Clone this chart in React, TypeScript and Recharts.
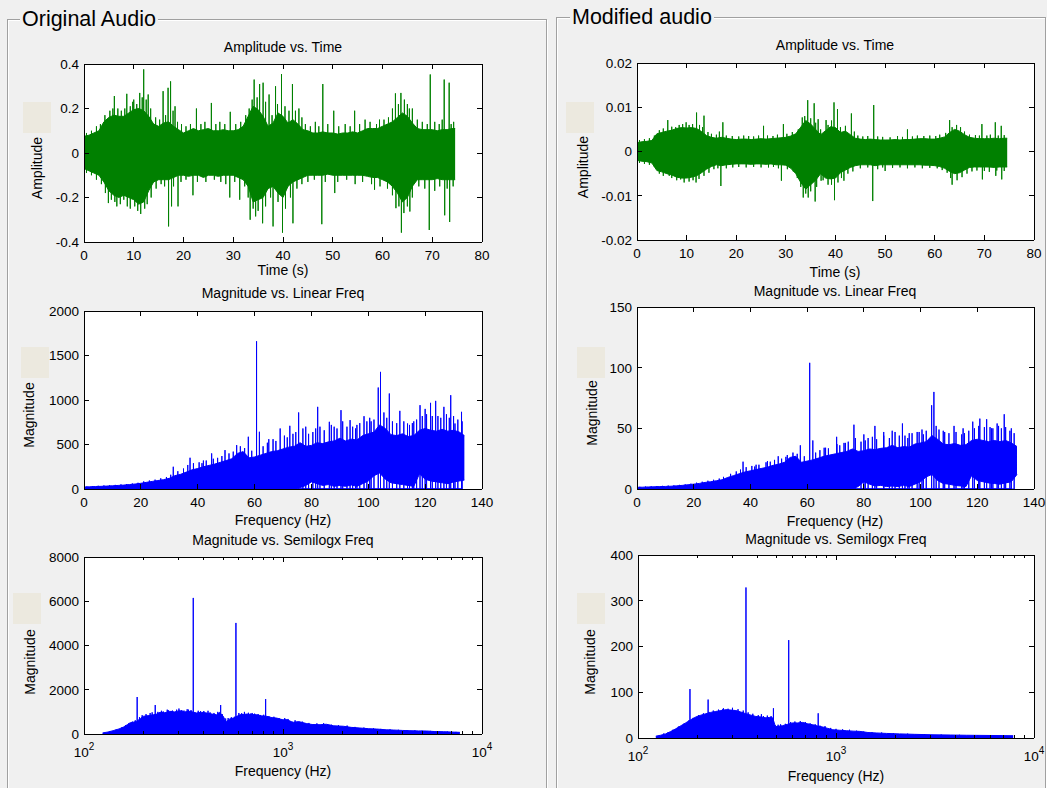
// Two MATLAB-style GUI panels: original vs. modified audio, three axes each
// (amplitude over time, magnitude over linear freq, magnitude over log freq).
// Dense signals are drawn as an envelope band plus a list of visible spikes.

import React from "react";
import { ComposedChart, Area, Line, XAxis, YAxis, CartesianGrid } from "recharts";

const FONT = "Arial, 'Liberation Sans', Helvetica, sans-serif";
const BG = "#f0f0f0";
const SWATCH = "#ece9df";
const GREEN = "#008000";
const BLUE = "#0000ff";
const INK = "#000";

type Spike = [number, number];

// ---------- Amplitude vs. Time (1 s bins) ----------
const TIME_S = [
  0, 1, 2, 3, 4, 5, 6, 7, 8, 9, 10, 11, 12, 13, 14, 15, 16, 17, 18, 19, 20, 21, 22, 23, 24, 25, 26, 27, 28, 29,
  30, 31, 32, 33, 34, 35, 36, 37, 38, 39, 40, 41, 42, 43, 44, 45, 46, 47, 48, 49, 50, 51, 52, 53, 54, 55, 56, 57,
  58, 59, 60, 61, 62, 63, 64, 65, 66, 67, 68, 69, 70, 71, 72, 73, 74, 74.6,
];
const ORIG_AMP_HI = [
  0.075, 0.08, 0.09, 0.1, 0.14, 0.16, 0.17, 0.165, 0.165, 0.18, 0.195, 0.2, 0.19, 0.165, 0.13, 0.12, 0.135, 0.14,
  0.12, 0.105, 0.09, 0.1, 0.11, 0.1, 0.105, 0.11, 0.1, 0.1, 0.105, 0.1, 0.1, 0.105, 0.12, 0.165, 0.21, 0.195, 0.165,
  0.12, 0.135, 0.18, 0.165, 0.135, 0.15, 0.13, 0.105, 0.1, 0.09, 0.09, 0.095, 0.09, 0.09, 0.085, 0.09, 0.09, 0.095,
  0.09, 0.1, 0.11, 0.11, 0.11, 0.12, 0.13, 0.14, 0.16, 0.18, 0.165, 0.135, 0.11, 0.105, 0.105, 0.105, 0.1, 0.105,
  0.105, 0.11, 0.11,
];
const ORIG_AMP_LO = [
  -0.07, -0.08, -0.09, -0.1, -0.13, -0.17, -0.19, -0.2, -0.19, -0.2, -0.21, -0.23, -0.22, -0.17, -0.13, -0.12, -0.12,
  -0.12, -0.11, -0.1, -0.1, -0.105, -0.1, -0.1, -0.11, -0.1, -0.1, -0.105, -0.1, -0.1, -0.1, -0.11, -0.12, -0.15,
  -0.22, -0.21, -0.2, -0.16, -0.15, -0.18, -0.2, -0.15, -0.13, -0.12, -0.11, -0.1, -0.1, -0.1, -0.1, -0.095, -0.1,
  -0.1, -0.1, -0.1, -0.1, -0.1, -0.1, -0.105, -0.11, -0.11, -0.12, -0.13, -0.15, -0.18, -0.22, -0.2, -0.15, -0.12,
  -0.12, -0.12, -0.12, -0.115, -0.12, -0.12, -0.12, -0.12,
];
const ORIG_AMP_SPIKES: Spike[] = [
  [4.9, -0.225], [6.1, 0.256], [6.6, -0.24], [8.6, 0.266], [8.7, -0.24], [10, 0.24], [11.2, 0.27], [11.4, -0.274],
  [12, 0.376], [12.9, 0.263], [15.9, 0.278], [16.9, 0.293], [17, -0.33], [17.4, 0.322], [17.6, -0.24], [18.3, 0.21],
  [18.9, -0.24], [21.9, -0.19], [22.6, 0.2], [25.6, 0.225], [29.3, -0.2], [29.4, 0.185], [31.3, -0.21],
  [33.4, -0.3], [34.2, 0.33], [34.5, -0.285], [35.3, 0.31], [35.9, -0.316], [36, 0.316], [37.2, 0.263],
  [38, -0.33], [38.5, 0.3], [39.7, 0.355], [39.9, -0.358], [41.9, 0.31], [42, -0.316], [43.2, 0.2], [47.8, -0.32],
  [48, 0.31], [50.2, 0.19], [50.4, -0.18], [54.4, 0.19], [58.4, -0.165], [59.4, 0.15], [62.6, 0.268],
  [62.7, -0.248], [63.7, 0.27], [63.8, -0.358], [65.4, 0.2], [65.5, -0.263], [69.4, -0.346], [69.6, 0.353],
  [72.4, 0.33], [72.5, -0.28], [73.4, 0.316], [73.5, -0.31],
];
// smaller peaks that make the ragged edge of the body
const ORIG_AMP_RAGGED: Spike[] = [
  [0.5, 0.09], [1.5, 0.1], [2.5, 0.12], [3.3, 0.13], [4.2, 0.17], [5.2, 0.19], [5.8, 0.2], [6.8, 0.2], [7.5, 0.19],
  [8.2, 0.2], [9.3, 0.21], [9.8, 0.23], [10.6, 0.22], [11.7, 0.25], [12.5, 0.24], [13.4, 0.2], [14.4, 0.16],
  [15.2, 0.15], [16.4, 0.17], [17.9, 0.19], [18.8, 0.14], [19.6, 0.13], [20.5, 0.12], [21.4, 0.13], [23.5, 0.13],
  [24.3, 0.14], [26.5, 0.13], [27.3, 0.14], [28.3, 0.13], [30.5, 0.13], [31.5, 0.14], [32.5, 0.17], [33.2, 0.2],
  [33.8, 0.24], [34.8, 0.25], [36.5, 0.23], [37.8, 0.17], [38.9, 0.22], [40.4, 0.21], [41.2, 0.19], [42.5, 0.19],
  [43.8, 0.16], [44.5, 0.13], [45.5, 0.12], [46.5, 0.14], [47.2, 0.12], [49, 0.13], [51.2, 0.12], [52.5, 0.13],
  [53.5, 0.12], [55.4, 0.13], [56.5, 0.15], [57.5, 0.14], [58.8, 0.13], [60.3, 0.15], [61.2, 0.16], [62, 0.2],
  [63.2, 0.22], [64.4, 0.24], [65, 0.22], [66, 0.2], [67, 0.15], [68, 0.14], [69, 0.13], [70.5, 0.14], [71.4, 0.13],
  [72, 0.15], [73.8, 0.13], [74.3, 0.14],
  [0.5, -0.09], [1.5, -0.1], [2.5, -0.12], [3.5, -0.14], [4.3, -0.18], [5.5, -0.21], [6.2, -0.22], [7.3, -0.23],
  [8, -0.21], [9.3, -0.25], [10.2, -0.24], [10.8, -0.26], [12.2, -0.25], [12.7, -0.23], [13.5, -0.2], [14.5, -0.16],
  [15.5, -0.14], [16.2, -0.15], [18, -0.15], [19.5, -0.13], [20.5, -0.12], [22.8, -0.13], [24.5, -0.13],
  [26.2, -0.12], [27.5, -0.13], [28.5, -0.14], [30.3, -0.13], [32.3, -0.15], [33, -0.2], [34, -0.25], [35, -0.26],
  [36.5, -0.24], [37.5, -0.2], [39, -0.22], [40.5, -0.25], [41.5, -0.2], [42.8, -0.16], [43.8, -0.14], [45, -0.13],
  [46.3, -0.12], [48.5, -0.13], [51, -0.13], [52.8, -0.12], [54.5, -0.14], [56, -0.13], [57.8, -0.14], [59.5, -0.15],
  [61, -0.16], [62, -0.19], [63.3, -0.24], [64.3, -0.27], [65, -0.24], [66, -0.2], [67.3, -0.15], [68.5, -0.16],
  [70.5, -0.17], [71.5, -0.15], [73, -0.16], [74.2, -0.15],
];

const MOD_AMP_HI = [
  0.002, 0.0022, 0.0023, 0.0025, 0.004, 0.0043, 0.0046, 0.0048, 0.0052, 0.0054, 0.0053, 0.0054, 0.0052, 0.0045,
  0.0036, 0.0032, 0.003, 0.0032, 0.003, 0.0028, 0.0027, 0.0028, 0.0028, 0.0027, 0.0028, 0.0029, 0.0028, 0.0029,
  0.003, 0.0031, 0.0032, 0.0035, 0.004, 0.0055, 0.007, 0.0062, 0.005, 0.0038, 0.0047, 0.0056, 0.0054, 0.0043,
  0.0046, 0.0038, 0.003, 0.0028, 0.0027, 0.0028, 0.0027, 0.0026, 0.0026, 0.0026, 0.0027, 0.0026, 0.0027, 0.0027,
  0.0028, 0.0029, 0.0029, 0.0028, 0.0028, 0.003, 0.0033, 0.0043, 0.005, 0.0046, 0.0038, 0.0032, 0.003, 0.0029,
  0.0029, 0.0029, 0.003, 0.0029, 0.003, 0.003,
];
const MOD_AMP_LO = [
  -0.002, -0.0022, -0.0023, -0.0026, -0.0043, -0.0046, -0.005, -0.0053, -0.0058, -0.006, -0.006, -0.0058, -0.0055,
  -0.0048, -0.004, -0.0034, -0.003, -0.0032, -0.003, -0.0029, -0.0028, -0.0028, -0.0028, -0.0029, -0.0028,
  -0.0028, -0.0029, -0.0028, -0.003, -0.003, -0.0031, -0.0038, -0.005, -0.007, -0.0085, -0.0075, -0.0065, -0.005,
  -0.006, -0.0062, -0.006, -0.0048, -0.0042, -0.0036, -0.0032, -0.003, -0.003, -0.003, -0.0032, -0.003, -0.003,
  -0.003, -0.003, -0.003, -0.003, -0.003, -0.003, -0.003, -0.0031, -0.0031, -0.0032, -0.0034, -0.0038, -0.0045,
  -0.005, -0.0048, -0.0042, -0.0036, -0.0035, -0.0035, -0.0035, -0.0035, -0.0036, -0.0035, -0.0035, -0.0035,
];
const MOD_AMP_SPIKES: Spike[] = [
  [6.2, 0.0071], [6.5, -0.0055], [9.9, 0.0066], [11.9, -0.007], [12, 0.0088], [13.5, 0.0081], [16.9, -0.0078],
  [17.3, 0.0066], [25.5, 0.0058], [29.1, -0.0066], [29.5, 0.0062], [33.3, 0.0077], [33.5, -0.0104],
  [34.4, 0.0116], [34.5, -0.0104], [35.7, 0.0109], [35.9, -0.0113], [36.5, 0.0073], [37.1, -0.0066],
  [38.1, 0.0071], [39.7, 0.0111], [39.8, -0.011], [40.4, 0.0096], [41.7, -0.0066], [43.2, 0.0086],
  [47.5, -0.0112], [47.7, 0.0105], [50, -0.0044], [54.5, 0.005], [63, 0.0071], [63.5, -0.0075],
  [69.5, 0.0062], [69.6, -0.0063], [72.2, 0.0066], [72.3, -0.0055], [73.4, 0.0058], [73.5, -0.0063],
];
const MOD_AMP_RAGGED: Spike[] = [
  [0.5, 0.0026], [1.5, 0.0028], [2.5, 0.003], [3.5, 0.0036], [4.5, 0.0048], [5.3, 0.0052], [7, 0.0056],
  [7.8, 0.0055], [8.5, 0.006], [9.2, 0.0062], [10.5, 0.006], [11.2, 0.0062], [12.6, 0.006], [13.2, 0.0055],
  [14.3, 0.0044], [15, 0.004], [16, 0.0038], [16.6, 0.0045], [18, 0.0036], [19.2, 0.0035], [20.5, 0.0034],
  [21.5, 0.0036], [22.5, 0.0035], [23.5, 0.0034], [24.5, 0.0036], [26.3, 0.0036], [27.4, 0.0035], [28.3, 0.0038],
  [30.2, 0.004], [31.3, 0.0044], [32.5, 0.005], [33.8, 0.008], [35, 0.0075], [36, 0.0065], [37, 0.005],
  [38.5, 0.006], [39.2, 0.007], [41, 0.0055], [42, 0.0058], [43.8, 0.0045], [44.5, 0.0036], [45.5, 0.0034],
  [46.5, 0.0035], [48.5, 0.0034], [49.5, 0.0033], [51, 0.0032], [52.5, 0.0035], [53.5, 0.0033], [55.5, 0.0034],
  [56.5, 0.0036], [57.8, 0.0035], [59, 0.0036], [60.2, 0.0035], [61, 0.0038], [62.2, 0.0042], [63.5, 0.0055],
  [64.4, 0.006], [65.2, 0.0055], [66, 0.0045], [67, 0.0038], [68.2, 0.0037], [69, 0.0036], [70.5, 0.0036],
  [71.2, 0.0038], [72.8, 0.0036], [74, 0.0037],
  [0.5, -0.0026], [1.5, -0.0028], [2.5, -0.003], [3.5, -0.0035], [4.5, -0.005], [5.3, -0.0055], [7, -0.006],
  [8, -0.0065], [8.8, -0.0063], [9.5, -0.007], [10.5, -0.0068], [11.3, -0.0065], [12.5, -0.0062], [13.5, -0.0055],
  [14.5, -0.0048], [15.5, -0.004], [16.3, -0.0038], [18, -0.0038], [19.3, -0.0036], [20.5, -0.0035], [22, -0.0036],
  [23.5, -0.0035], [25, -0.0036], [26.5, -0.0036], [27.5, -0.0035], [28.5, -0.0038], [30.3, -0.004],
  [31.5, -0.0045], [32.3, -0.006], [33, -0.008], [34, -0.0095], [35, -0.009], [36.2, -0.008], [37.5, -0.0065],
  [38.5, -0.0075], [39.2, -0.0075], [40.5, -0.007], [41.2, -0.006], [42.5, -0.005], [43.5, -0.0045],
  [45, -0.0038], [46.5, -0.0036], [48.5, -0.004], [49.5, -0.0036], [51.5, -0.0037], [53, -0.0036], [54.5, -0.0038],
  [56, -0.0036], [57.5, -0.0038], [59, -0.0037], [60.5, -0.0038], [61.5, -0.0042], [62.5, -0.0048], [63.2, -0.006],
  [64.5, -0.0065], [65.5, -0.0058], [66.5, -0.005], [67.5, -0.0045], [68.5, -0.0043], [70, -0.0044],
  [71, -0.0046], [72.5, -0.0043], [74, -0.0044],
];

// ---------- Magnitude vs. Linear Freq (2 Hz bins) ----------
const ORIG_LIN_HZ = [
  0, 2, 4, 6, 8, 10, 12, 14, 16, 18, 20, 22, 24, 26, 28, 30, 32, 34, 36, 38, 40, 42, 44, 46, 48, 50, 52, 54, 56, 58,
  60, 62, 64, 66, 68, 70, 72, 74, 76, 78, 80, 82, 84, 86, 88, 90, 92, 94, 96, 98, 100, 102, 104, 106, 108, 110, 112,
  114, 116, 118, 120, 122, 124, 126, 128, 130, 132, 133.8,
];
const ORIG_LIN_HI = [
  22, 25, 28, 30, 33, 36, 40, 44, 50, 56, 64, 75, 85, 95, 105, 120, 150, 165, 190, 215, 230, 250, 265, 280, 300,
  320, 340, 400, 420, 350, 360, 380, 400, 420, 430, 450, 470, 480, 520, 480, 490, 520, 510, 530, 540, 570, 540, 560,
  550, 600, 620, 640, 720, 680, 610, 600, 620, 590, 600, 660, 680, 660, 650, 670, 650, 660, 640, 600,
];
const ORIG_LIN_LO = [
  0, 0, 0, 0, 0, 0, 0, 0, 0, 0, 0, 0, 0, 0, 0, 0, 0, 0, 0, 0, 0, 0, 0, 0, 0, 0, 0, 0, 0, 0, 0, 0, 0, 0, 0, 0, 0, 0,
  15, 40, 80, 60, 40, 50, 30, 40, 30, 45, 30, 60, 90, 150, 180, 110, 70, 60, 50, 40, 30, 170, 110, 90, 80, 70, 60,
  80, 90, 100,
];
const ORIG_LIN_SPIKES: Spike[] = [
  [31.4, 250], [37.3, 351], [42, 320], [44.9, 400], [49.6, 437], [53.7, 493], [57.8, 587], [60.7, 1660],
  [61.7, 643], [65, 560], [69, 680], [72.4, 710], [75.5, 860], [78, 700], [82.2, 923], [86.3, 755], [88, 700],
  [90.4, 886], [93.6, 774], [96, 720], [98.5, 818], [101, 760], [103.5, 1140], [104.3, 1316], [107.4, 1073],
  [111.1, 878], [113.8, 736], [116, 760], [118.2, 942], [120, 900], [121.9, 968], [123.7, 990], [126.6, 923],
  [129, 1054], [130.5, 736], [132.8, 867],
];
const ORIG_LIN_RAGGED: Spike[] = [
  [1, 28], [3, 32], [5, 36], [7, 40], [9, 42], [11, 46], [13, 52], [15, 56], [17, 62], [19, 70], [21, 85], [23, 95],
  [25, 105], [27, 120], [29, 135], [30.5, 160], [33, 200], [35, 230], [36.5, 270], [38.5, 290], [40.5, 300],
  [41.5, 290], [43, 320], [45.5, 340], [47, 350], [48.5, 370], [51, 400], [52.5, 420], [55, 480], [56.5, 460],
  [59, 430], [63, 480], [64.5, 520], [66.5, 560], [67.5, 540], [70.5, 600], [71.5, 580], [73.5, 620], [74.5, 640],
  [77, 680], [79, 620], [80.5, 640], [81.5, 680], [83, 700], [84.5, 660], [87, 720], [89, 680], [91, 760],
  [92.5, 700], [94.5, 700], [95.5, 680], [97, 740], [99.5, 760], [100.5, 800], [102, 780], [105.5, 860],
  [106.5, 800], [108.5, 760], [110, 740], [112.5, 760], [114.5, 720], [115.5, 740], [117, 780], [119, 820],
  [120.5, 840], [122.5, 820], [124.5, 820], [125.5, 800], [127.5, 840], [128.5, 800], [130, 820], [131.5, 780],
  [133, 760],
];

const MOD_LIN_HZ = [
  0, 2, 4, 6, 8, 10, 12, 14, 16, 18, 20, 22, 24, 26, 28, 30, 32, 34, 36, 38, 40, 42, 44, 46, 48, 50, 52, 54, 56, 58,
  60, 62, 64, 66, 68, 70, 72, 74, 76, 78, 80, 82, 84, 86, 88, 90, 92, 94, 96, 98, 100, 102, 104, 106, 108, 110, 112,
  114, 116, 118, 120, 122, 124, 126, 128, 130, 132, 134,
];
const MOD_LIN_HI = [
  1.4, 1.5, 1.7, 1.8, 2, 2.1, 2.3, 2.6, 3, 3.5, 4, 4.6, 5.4, 6, 6.8, 7.6, 9.5, 11, 12.5, 14, 15, 16, 17, 18, 19.5,
  20.5, 22, 26, 27, 22, 23, 24, 25.5, 27, 28, 29, 30, 31, 33, 31, 31.5, 33, 32.5, 33.5, 34, 36, 34, 35, 34.5, 37, 38,
  39, 44, 41, 37, 36.5, 37.5, 36, 36.5, 40, 41, 40, 39, 40, 39, 40, 38, 35,
];
const MOD_LIN_LO = [
  0, 0, 0, 0, 0, 0, 0, 0, 0, 0, 0, 0, 0, 0, 0, 0, 0, 0, 0, 0, 0, 0, 0, 0, 0, 0, 0, 0, 0, 0, 0, 0, 0, 0, 0, 0, 0, 0,
  0, 2, 6, 4, 2.5, 3, 2, 2.5, 2, 3, 2, 4, 6, 10, 12, 7, 4.5, 4, 3, 2.5, 2, 11, 7, 6, 5, 4.5, 4, 5, 6, 12,
];
const MOD_LIN_SPIKES: Spike[] = [
  [37.4, 22.5], [42, 20], [46, 23], [49.8, 27], [53, 28], [57.6, 36], [60.9, 104], [62, 40], [66, 34],
  [70.4, 43], [73, 38], [76.5, 53], [80, 45], [83.9, 52], [87, 47], [90, 48], [93.6, 54], [96, 46], [98.8, 47],
  [101, 45], [103.9, 69], [104.7, 80], [108, 48], [111.8, 52], [115, 50], [118.4, 55.5], [120.9, 58],
  [123.3, 57.5], [125, 50], [127, 54], [129.5, 61.6], [132, 50],
];
const MOD_LIN_RAGGED: Spike[] = [
  [1, 1.8], [3, 2], [5, 2.2], [7, 2.4], [9, 2.6], [11, 2.8], [13, 3], [15, 3.4], [17, 3.8], [19, 4.4], [21, 5.2],
  [23, 6], [25, 6.8], [27, 7.6], [29, 8.6], [30.5, 10], [33, 12.5], [35, 14.5], [36.5, 16], [38.5, 18], [40.5, 19],
  [41.5, 18.5], [43, 20], [45.5, 22], [47, 22.5], [48.5, 24], [51, 25], [52.5, 26.5], [55, 30], [56.5, 29],
  [59, 27], [63, 30], [64.5, 32], [66.5, 34], [67.5, 33.5], [70.5, 37], [71.5, 36], [73.5, 38], [74.5, 39],
  [77, 42], [79, 39], [80.5, 40], [81.5, 42], [83, 43], [84.5, 41], [87, 44], [89, 42], [91, 47], [92.5, 44],
  [94.5, 44], [95.5, 42], [97, 46], [99.5, 47], [100.5, 49], [102, 48], [105.5, 52], [106.5, 49], [108.5, 47],
  [110, 46], [112.5, 47], [114.5, 45], [115.5, 46], [117, 48], [119, 50], [120.5, 52], [122.5, 51], [124.5, 51],
  [125.5, 50], [127.5, 52], [128.5, 50], [130, 51], [131.5, 48], [133, 46],
];

// ---------- Magnitude vs. Semilogx Freq ----------
const ORIG_LOG_HZ = [
  124, 132, 140, 150, 158, 165, 170, 178, 184, 192, 199, 210, 223, 232, 241, 255, 270, 285, 303, 320, 341, 368, 390,
  414, 440, 464, 480, 501, 510, 521, 540, 563, 608, 657, 700, 738, 780, 828, 880, 929, 1000, 1045, 1100, 1128, 1200,
  1315, 1400, 1535, 1650, 1800, 2010, 2200, 2437, 2700, 2955, 3300, 3583, 4000, 4345, 4800, 5268, 5800, 6388, 7000,
  7745,
];
const ORIG_LOG_MAG = [
  50, 90, 150, 230, 316, 420, 500, 540, 570, 700, 800, 830, 870, 900, 980, 960, 1025, 1000, 1055, 1000, 1025, 950,
  980, 950, 900, 870, 980, 800, 650, 570, 680, 720, 870, 900, 880, 870, 820, 800, 740, 720, 640, 650, 560, 530, 560,
  470, 430, 420, 440, 370, 350, 300, 270, 240, 225, 190, 180, 160, 150, 140, 135, 110, 105, 90, 75,
];
const ORIG_LOG_SPIKES: Spike[] = [
  [185, 1672], [228, 1310], [262, 1100], [300, 1150], [330, 1120], [354, 6150], [420, 1050], [486, 1310],
  [580, 5020], [640, 1000], [700, 950], [818, 1580],
];
const ORIG_LOG_RAGGED: Spike[] = [
  [135, 120], [145, 200], [155, 300], [162, 400], [168, 480], [175, 560], [181, 620], [190, 760], [196, 850],
  [205, 900], [215, 950], [220, 980], [235, 1000], [245, 1050], [250, 1020], [265, 1080], [278, 1060], [292, 1100],
  [310, 1080], [318, 1060], [335, 1100], [345, 1080], [375, 1050], [385, 1030], [400, 1040], [430, 980], [450, 950],
  [470, 1000], [495, 900], [515, 700], [530, 720], [550, 760], [570, 780], [600, 950], [620, 940], [670, 960],
  [690, 930], [720, 920], [750, 900], [770, 860], [800, 870], [850, 800], [900, 780], [960, 700], [1020, 720],
  [1060, 680], [1150, 620], [1250, 560], [1350, 500], [1480, 480], [1600, 490], [1750, 420], [1900, 400],
  [2100, 380], [2300, 320], [2550, 290], [2850, 260], [3100, 230], [3450, 210], [3800, 190], [4200, 175],
  [4600, 165], [5000, 150], [5500, 140], [6100, 125], [6700, 110], [7400, 95],
];

const MOD_LOG_HZ = [
  123, 130, 138, 146, 155, 165, 174, 185, 196, 208, 220, 233, 247, 262, 278, 295, 312, 330, 351, 372, 394, 418, 443,
  460, 479, 490, 498, 538, 570, 604, 640, 679, 720, 763, 810, 858, 910, 964, 1040, 1127, 1220, 1316, 1450, 1597,
  1800, 2094, 2500, 3090, 3800, 4560, 6000, 7850,
];
const MOD_LOG_MAG = [
  4, 6, 9, 14, 20, 27, 33, 40, 46, 50, 53, 56, 58, 60, 62, 61, 60, 57, 53, 50, 47, 46, 44, 45, 44, 30, 25, 27, 30,
  33, 33, 34, 31, 29, 26, 24, 21, 18, 17, 16, 15, 14.5, 12, 11, 10, 9, 8, 7, 6.5, 6, 5.5, 5,
];
const MOD_LOG_SPIKES: Spike[] = [
  [183, 107], [226, 84], [270, 65], [300, 66], [351, 329], [420, 52], [483, 65], [577, 214], [813, 54],
];
const MOD_LOG_RAGGED: Spike[] = [
  [135, 10], [142, 13], [150, 18], [160, 25], [170, 31], [180, 38], [190, 44], [202, 50], [214, 54], [228, 57],
  [240, 60], [255, 62], [268, 63], [285, 64], [300, 63], [320, 63], [340, 60], [360, 56], [380, 53], [405, 50],
  [430, 48], [450, 49], [470, 48], [510, 29], [525, 30], [555, 31], [590, 35], [620, 36], [660, 37], [700, 35],
  [740, 32], [785, 30], [830, 27], [880, 26], [940, 22], [1000, 20], [1080, 19], [1170, 18], [1270, 16],
  [1380, 14], [1520, 13], [1700, 12], [1950, 10.5], [2300, 9.5], [2800, 8.5], [3400, 7.5], [4200, 7], [5200, 6.5],
  [6800, 6],
];

// ---------- axis ticks ----------
const TIME_TICKS = [0, 10, 20, 30, 40, 50, 60, 70, 80];
const LIN_HZ_TICKS = [0, 20, 40, 60, 80, 100, 120, 140];
const LOG_MAJOR = [100, 1000, 10000];
const LOG_TICKS = [
  100, 200, 300, 400, 500, 600, 700, 800, 900, 1000, 2000, 3000, 4000, 5000, 6000, 7000, 8000, 9000, 10000,
];
const ORIG_AMP_TICKS = [-0.4, -0.2, 0, 0.2, 0.4];
const MOD_AMP_TICKS = [-0.02, -0.01, 0, 0.01, 0.02];
const ORIG_LIN_TICKS = [0, 500, 1000, 1500, 2000];
const MOD_LIN_TICKS = [0, 50, 100, 150];
const ORIG_LOG_TICKS = [0, 2000, 4000, 6000, 8000];
const MOD_LOG_TICKS = [0, 100, 200, 300, 400];

const band = (xs: number[], lo: number[], hi: number[]) => xs.map((x, i) => ({ x, band: [lo[i], hi[i]] }));
const curve = (xs: number[], m: number[]) => xs.map((x, i) => ({ x, band: m[i] }));
const spikeRows = (sp: Spike[]) => sp.flatMap(([x, v]) => [{ x, v: 0 }, { x, v }, { x, v: 0 }]);

// axis gutters around the plot box inside each chart svg
const AX_L = 60;
const AX_T = 6;
const AX_R = 18;
const AX_B = 34;
const TICK_FONT = 13.5;
const AXIS_LINE = { stroke: INK, strokeWidth: 1, shapeRendering: "crispEdges" };

const bottomTick = (log: boolean) => (p: any) => {
  const v = Number(p.payload.value);
  const major = !log || LOG_MAJOR.includes(v);
  const len = major ? 5 : 3;
  return (
    <g>
      <line x1={p.x} y1={p.y} x2={p.x} y2={p.y - len} stroke={INK} shapeRendering="crispEdges" />
      {major && !log && (
        <text x={p.x} y={p.y + 17.5} textAnchor="middle" fontFamily={FONT} fontSize={TICK_FONT} fill={INK}>
          {String(v)}
        </text>
      )}
      {major && log && (
        <text x={p.x} y={p.y + 23} textAnchor="middle" fontFamily={FONT} fontSize={TICK_FONT} fill={INK}>
          10
          <tspan dy={-7} fontSize={10}>
            {String(Math.round(Math.log10(v)))}
          </tspan>
        </text>
      )}
    </g>
  );
};

const topTick = (log: boolean) => (p: any) => {
  const v = Number(p.payload.value);
  const len = !log || LOG_MAJOR.includes(v) ? 5 : 3;
  return <line x1={p.x} y1={p.y} x2={p.x} y2={p.y + len} stroke={INK} shapeRendering="crispEdges" />;
};

const leftTick = (p: any) => (
  <g>
    <line x1={p.x} y1={p.y} x2={p.x + 5} y2={p.y} stroke={INK} shapeRendering="crispEdges" />
    <text x={p.x - 5} y={p.y} dy="0.36em" textAnchor="end" fontFamily={FONT} fontSize={TICK_FONT} fill={INK}>
      {String(p.payload.value)}
    </text>
  </g>
);

const rightTick = (p: any) => (
  <line x1={p.x} y1={p.y} x2={p.x - 5} y2={p.y} stroke={INK} shapeRendering="crispEdges" />
);

interface PlotSpec {
  box: [number, number, number, number]; // plot area: left, top, width, height (page px)
  rows: { x: number; band: number | number[] }[];
  spikes: Spike[];
  color: string;
  xDomain: [number, number];
  xTicks: number[];
  log?: boolean;
  yDomain: [number, number];
  yTicks: number[];
}

function Plot({ spec }: { spec: PlotSpec }) {
  const [l, t, w, h] = spec.box;
  const xCommon = {
    dataKey: "x",
    type: "number" as const,
    scale: (spec.log ? "log" : "linear") as any,
    domain: spec.xDomain,
    ticks: spec.xTicks,
    interval: 0 as const,
    allowDataOverflow: true,
    tickLine: false,
    tickSize: 0,
    tickMargin: 0,
    axisLine: AXIS_LINE,
  };
  const yCommon = {
    type: "number" as const,
    domain: spec.yDomain,
    ticks: spec.yTicks,
    interval: 0 as const,
    allowDataOverflow: true,
    tickLine: false,
    tickSize: 0,
    tickMargin: 0,
    axisLine: AXIS_LINE,
  };
  return (
    <div style={{ position: "absolute", left: l - AX_L, top: t - AX_T }}>
      <ComposedChart
        width={w + AX_L + AX_R}
        height={h + AX_T + AX_B}
        data={spec.rows}
        margin={{ top: 0, right: 0, bottom: 0, left: 0 }}
      >
        <CartesianGrid horizontal={false} vertical={false} fill="#ffffff" fillOpacity={1} stroke="none" />
        <XAxis {...xCommon} height={AX_B} tick={bottomTick(!!spec.log)} />
        <XAxis {...xCommon} xAxisId="top" orientation="top" height={AX_T} tick={topTick(!!spec.log)} />
        <YAxis {...yCommon} width={AX_L} tick={leftTick} />
        <YAxis {...yCommon} yAxisId="right" orientation="right" width={AX_R} tick={rightTick} />
        <Area
          dataKey="band"
          type="linear"
          stroke={spec.color}
          strokeWidth={1}
          fill={spec.color}
          fillOpacity={1}
          baseValue={0}
          isAnimationActive={false}
        />
        <Line
          data={spikeRows(spec.spikes)}
          dataKey="v"
          type="linear"
          stroke={spec.color}
          strokeWidth={1}
          dot={false}
          isAnimationActive={false}
        />
      </ComposedChart>
    </div>
  );
}

function Txt({ x, y, size = 14, rotate = false, children }: any) {
  return (
    <div
      style={{
        position: "absolute",
        left: x,
        top: y,
        transform: `translate(-50%, -50%)${rotate ? " rotate(-90deg)" : ""}`,
        fontFamily: FONT,
        fontSize: size,
        lineHeight: 1,
        whiteSpace: "nowrap",
        color: INK,
      }}
    >
      {children}
    </div>
  );
}

function Swatch({ x, y }: { x: number; y: number }) {
  return <div style={{ position: "absolute", left: x, top: y, width: 28, height: 31, background: SWATCH }} />;
}

function Frame({ left, top, width, title, titleLeft, titleTop }: any) {
  return (
    <>
      <div
        style={{
          position: "absolute",
          left,
          top,
          width,
          height: 820,
          border: "1px solid #a0a0a0",
          boxShadow: "inset 1px 1px 0 #ffffff, 1px 1px 0 #ffffff",
        }}
      />
      <div
        style={{
          position: "absolute",
          left: titleLeft,
          top: titleTop,
          padding: "0 2px",
          background: BG,
          fontFamily: FONT,
          fontSize: 21.5,
          lineHeight: "24px",
          color: INK,
          whiteSpace: "nowrap",
        }}
      >
        {title}
      </div>
    </>
  );
}

const PLOTS: PlotSpec[] = [
  {
    box: [84, 64, 398, 178],
    rows: band(TIME_S, ORIG_AMP_LO, ORIG_AMP_HI),
    spikes: [...ORIG_AMP_SPIKES, ...ORIG_AMP_RAGGED],
    color: GREEN,
    xDomain: [0, 80],
    xTicks: TIME_TICKS,
    yDomain: [-0.4, 0.4],
    yTicks: ORIG_AMP_TICKS,
  },
  {
    box: [84, 311, 398, 178],
    rows: band(ORIG_LIN_HZ, ORIG_LIN_LO, ORIG_LIN_HI),
    spikes: [...ORIG_LIN_SPIKES, ...ORIG_LIN_RAGGED],
    color: BLUE,
    xDomain: [0, 140],
    xTicks: LIN_HZ_TICKS,
    yDomain: [0, 2000],
    yTicks: ORIG_LIN_TICKS,
  },
  {
    box: [84, 557, 398, 177],
    rows: curve(ORIG_LOG_HZ, ORIG_LOG_MAG),
    spikes: [...ORIG_LOG_SPIKES, ...ORIG_LOG_RAGGED],
    color: BLUE,
    xDomain: [100, 10000],
    xTicks: LOG_TICKS,
    log: true,
    yDomain: [0, 8000],
    yTicks: ORIG_LOG_TICKS,
  },
  {
    box: [637, 63, 397, 177],
    rows: band(TIME_S, MOD_AMP_LO, MOD_AMP_HI),
    spikes: [...MOD_AMP_SPIKES, ...MOD_AMP_RAGGED],
    color: GREEN,
    xDomain: [0, 80],
    xTicks: TIME_TICKS,
    yDomain: [-0.02, 0.02],
    yTicks: MOD_AMP_TICKS,
  },
  {
    box: [637, 307, 397, 182],
    rows: band(MOD_LIN_HZ, MOD_LIN_LO, MOD_LIN_HI),
    spikes: [...MOD_LIN_SPIKES, ...MOD_LIN_RAGGED],
    color: BLUE,
    xDomain: [0, 140],
    xTicks: LIN_HZ_TICKS,
    yDomain: [0, 150],
    yTicks: MOD_LIN_TICKS,
  },
  {
    box: [638, 555, 396, 183],
    rows: curve(MOD_LOG_HZ, MOD_LOG_MAG),
    spikes: [...MOD_LOG_SPIKES, ...MOD_LOG_RAGGED],
    color: BLUE,
    xDomain: [100, 10000],
    xTicks: LOG_TICKS,
    log: true,
    yDomain: [0, 400],
    yTicks: MOD_LOG_TICKS,
  },
];

export default function App() {
  return (
    <div
      style={{
        position: "absolute",
        left: 0,
        top: 0,
        width: 1047,
        height: 788,
        overflow: "hidden",
        background: BG,
      }}
    >
      <Frame left={7} top={19} width={538} title="Original Audio" titleLeft={20} titleTop={7} />
      <Frame left={556} top={17} width={488} title="Modified audio" titleLeft={570} titleTop={5} />

      <Swatch x={23} y={102} />
      <Swatch x={21} y={347} />
      <Swatch x={13} y={593} />
      <Swatch x={566} y={102} />
      <Swatch x={577} y={347} />
      <Swatch x={577} y={593} />

      {PLOTS.map((p, i) => (
        <Plot key={i} spec={p} />
      ))}

      <Txt x={283} y={47}>Amplitude vs. Time</Txt>
      <Txt x={283} y={270}>Time (s)</Txt>
      <Txt x={37} y={168} rotate>Amplitude</Txt>
      <Txt x={283} y={293}>Magnitude vs. Linear Freq</Txt>
      <Txt x={283} y={520}>Frequency (Hz)</Txt>
      <Txt x={29} y={415} rotate>Magnitude</Txt>
      <Txt x={283} y={540}>Magnitude vs. Semilogx Freq</Txt>
      <Txt x={283} y={771}>Frequency (Hz)</Txt>
      <Txt x={30} y={662} rotate>Magnitude</Txt>

      <Txt x={835} y={45}>Amplitude vs. Time</Txt>
      <Txt x={835} y={272}>Time (s)</Txt>
      <Txt x={583} y={167} rotate>Amplitude</Txt>
      <Txt x={835} y={291}>Magnitude vs. Linear Freq</Txt>
      <Txt x={835} y={521}>Frequency (Hz)</Txt>
      <Txt x={592} y={413} rotate>Magnitude</Txt>
      <Txt x={836} y={539}>Magnitude vs. Semilogx Freq</Txt>
      <Txt x={836} y={776}>Frequency (Hz)</Txt>
      <Txt x={590} y={662} rotate>Magnitude</Txt>
    </div>
  );
}
